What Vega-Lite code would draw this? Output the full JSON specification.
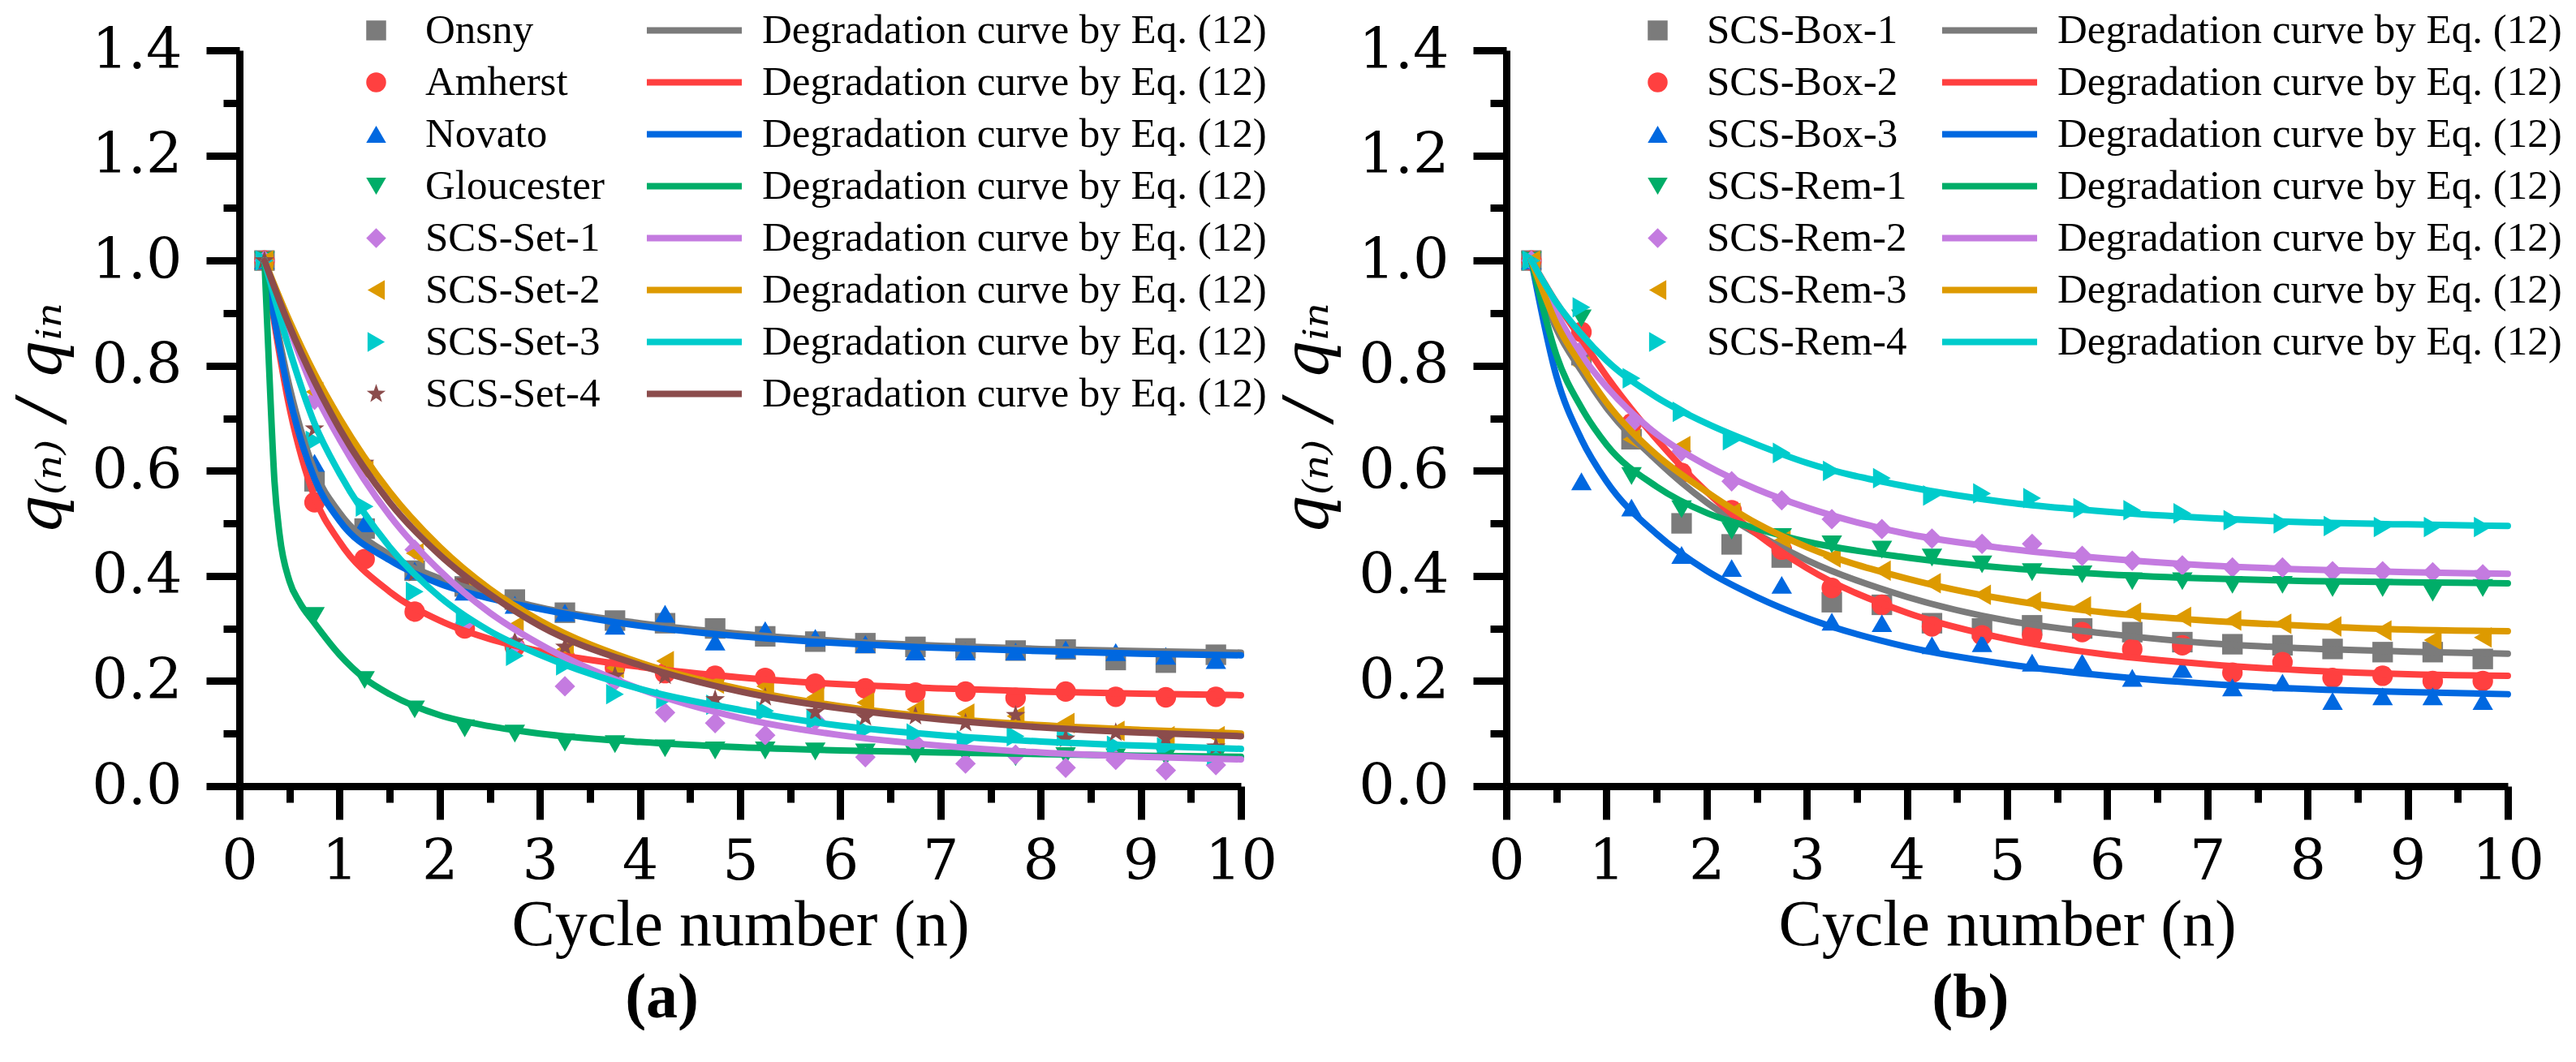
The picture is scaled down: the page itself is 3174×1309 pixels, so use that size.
{
  "$schema": "https://vega.github.io/schema/vega-lite/v6.json",
  "background": "white",
  "padding": {"left": 13, "top": 12, "right": 90, "bottom": 0},
  "config": {
    "view": {"stroke": null},
    "style": {
      "guide-label": {"font": "Liberation Serif", "fill": "black"},
      "guide-title": {"font": "Liberation Serif", "fill": "black"},
      "group-title": {"font": "Liberation Serif"}
    },
    "axis": {
      "domainColor": "black", "domainWidth": 9, "tickColor": "black", "tickWidth": 9,
      "labelFont": "DejaVu Serif", "labelFontSize": 70, "labelColor": "black",
      "titleFont": "Liberation Serif", "titleFontSize": 80, "titleFontWeight": "normal", "titleColor": "black",
      "grid": false
    },
    "legend": {
      "labelFont": "Liberation Serif", "labelFontSize": 51, "labelColor": "black", "labelLimit": 1000,
      "padding": 0, "rowPadding": 12, "title": null
    },
    "title": {"font": "Liberation Serif", "fontSize": 78, "fontWeight": "bold", "color": "black"}
  },
  "datasets": {
    "pa": [
      {"n":0.25,"q":1.0,"s":"Onsny"},{"n":0.75,"q":0.58,"s":"Onsny"},{"n":1.25,"q":0.49,"s":"Onsny"},{"n":1.75,"q":0.41,"s":"Onsny"},{"n":2.25,"q":0.38,"s":"Onsny"},{"n":2.75,"q":0.355,"s":"Onsny"},{"n":3.25,"q":0.33,"s":"Onsny"},{"n":3.75,"q":0.315,"s":"Onsny"},{"n":4.25,"q":0.31,"s":"Onsny"},{"n":4.75,"q":0.3,"s":"Onsny"},{"n":5.25,"q":0.285,"s":"Onsny"},{"n":5.75,"q":0.275,"s":"Onsny"},{"n":6.25,"q":0.272,"s":"Onsny"},{"n":6.75,"q":0.265,"s":"Onsny"},{"n":7.25,"q":0.262,"s":"Onsny"},{"n":7.75,"q":0.258,"s":"Onsny"},{"n":8.25,"q":0.26,"s":"Onsny"},{"n":8.75,"q":0.24,"s":"Onsny"},{"n":9.25,"q":0.235,"s":"Onsny"},{"n":9.75,"q":0.25,"s":"Onsny"},
      {"n":0.25,"q":1.0,"s":"Amherst"},{"n":0.75,"q":0.54,"s":"Amherst"},{"n":1.25,"q":0.432,"s":"Amherst"},{"n":1.75,"q":0.332,"s":"Amherst"},{"n":2.25,"q":0.3,"s":"Amherst"},{"n":2.75,"q":0.265,"s":"Amherst"},{"n":3.25,"q":0.245,"s":"Amherst"},{"n":3.75,"q":0.225,"s":"Amherst"},{"n":4.25,"q":0.215,"s":"Amherst"},{"n":4.75,"q":0.21,"s":"Amherst"},{"n":5.25,"q":0.206,"s":"Amherst"},{"n":5.75,"q":0.195,"s":"Amherst"},{"n":6.25,"q":0.186,"s":"Amherst"},{"n":6.75,"q":0.178,"s":"Amherst"},{"n":7.25,"q":0.18,"s":"Amherst"},{"n":7.75,"q":0.168,"s":"Amherst"},{"n":8.25,"q":0.18,"s":"Amherst"},{"n":8.75,"q":0.17,"s":"Amherst"},{"n":9.25,"q":0.169,"s":"Amherst"},{"n":9.75,"q":0.17,"s":"Amherst"},
      {"n":0.25,"q":1.0,"s":"Novato"},{"n":0.75,"q":0.615,"s":"Novato"},{"n":1.25,"q":0.5,"s":"Novato"},{"n":1.75,"q":0.41,"s":"Novato"},{"n":2.25,"q":0.37,"s":"Novato"},{"n":2.75,"q":0.345,"s":"Novato"},{"n":3.25,"q":0.33,"s":"Novato"},{"n":3.75,"q":0.305,"s":"Novato"},{"n":4.25,"q":0.328,"s":"Novato"},{"n":4.75,"q":0.275,"s":"Novato"},{"n":5.25,"q":0.297,"s":"Novato"},{"n":5.75,"q":0.282,"s":"Novato"},{"n":6.25,"q":0.27,"s":"Novato"},{"n":6.75,"q":0.256,"s":"Novato"},{"n":7.25,"q":0.256,"s":"Novato"},{"n":7.75,"q":0.256,"s":"Novato"},{"n":8.25,"q":0.26,"s":"Novato"},{"n":8.75,"q":0.255,"s":"Novato"},{"n":9.25,"q":0.248,"s":"Novato"},{"n":9.75,"q":0.24,"s":"Novato"},
      {"n":0.25,"q":1.0,"s":"Gloucester"},{"n":0.75,"q":0.324,"s":"Gloucester"},{"n":1.25,"q":0.202,"s":"Gloucester"},{"n":1.75,"q":0.146,"s":"Gloucester"},{"n":2.25,"q":0.11,"s":"Gloucester"},{"n":2.75,"q":0.1,"s":"Gloucester"},{"n":3.25,"q":0.083,"s":"Gloucester"},{"n":3.75,"q":0.08,"s":"Gloucester"},{"n":4.25,"q":0.072,"s":"Gloucester"},{"n":4.75,"q":0.068,"s":"Gloucester"},{"n":5.25,"q":0.068,"s":"Gloucester"},{"n":5.75,"q":0.066,"s":"Gloucester"},{"n":6.25,"q":0.064,"s":"Gloucester"},{"n":6.75,"q":0.06,"s":"Gloucester"},{"n":7.25,"q":0.059,"s":"Gloucester"},{"n":7.75,"q":0.055,"s":"Gloucester"},{"n":8.25,"q":0.057,"s":"Gloucester"},{"n":8.75,"q":0.055,"s":"Gloucester"},{"n":9.25,"q":0.055,"s":"Gloucester"},{"n":9.75,"q":0.054,"s":"Gloucester"},
      {"n":0.25,"q":1.0,"s":"SCS-Set-1"},{"n":0.75,"q":0.735,"s":"SCS-Set-1"},{"n":1.25,"q":0.608,"s":"SCS-Set-1"},{"n":1.75,"q":0.45,"s":"SCS-Set-1"},{"n":2.25,"q":0.31,"s":"SCS-Set-1"},{"n":2.75,"q":0.27,"s":"SCS-Set-1"},{"n":3.25,"q":0.19,"s":"SCS-Set-1"},{"n":3.75,"q":0.2,"s":"SCS-Set-1"},{"n":4.25,"q":0.14,"s":"SCS-Set-1"},{"n":4.75,"q":0.12,"s":"SCS-Set-1"},{"n":5.25,"q":0.097,"s":"SCS-Set-1"},{"n":5.75,"q":0.125,"s":"SCS-Set-1"},{"n":6.25,"q":0.055,"s":"SCS-Set-1"},{"n":6.75,"q":0.082,"s":"SCS-Set-1"},{"n":7.25,"q":0.043,"s":"SCS-Set-1"},{"n":7.75,"q":0.06,"s":"SCS-Set-1"},{"n":8.25,"q":0.035,"s":"SCS-Set-1"},{"n":8.75,"q":0.05,"s":"SCS-Set-1"},{"n":9.25,"q":0.03,"s":"SCS-Set-1"},{"n":9.75,"q":0.04,"s":"SCS-Set-1"},
      {"n":0.25,"q":1.0,"s":"SCS-Set-2"},{"n":0.75,"q":0.75,"s":"SCS-Set-2"},{"n":1.25,"q":0.6,"s":"SCS-Set-2"},{"n":1.75,"q":0.443,"s":"SCS-Set-2"},{"n":2.25,"q":0.38,"s":"SCS-Set-2"},{"n":2.75,"q":0.305,"s":"SCS-Set-2"},{"n":3.25,"q":0.26,"s":"SCS-Set-2"},{"n":3.75,"q":0.225,"s":"SCS-Set-2"},{"n":4.25,"q":0.238,"s":"SCS-Set-2"},{"n":4.75,"q":0.195,"s":"SCS-Set-2"},{"n":5.25,"q":0.19,"s":"SCS-Set-2"},{"n":5.75,"q":0.169,"s":"SCS-Set-2"},{"n":6.25,"q":0.159,"s":"SCS-Set-2"},{"n":6.75,"q":0.146,"s":"SCS-Set-2"},{"n":7.25,"q":0.138,"s":"SCS-Set-2"},{"n":7.75,"q":0.133,"s":"SCS-Set-2"},{"n":8.25,"q":0.12,"s":"SCS-Set-2"},{"n":8.75,"q":0.105,"s":"SCS-Set-2"},{"n":9.25,"q":0.095,"s":"SCS-Set-2"},{"n":9.75,"q":0.095,"s":"SCS-Set-2"},
      {"n":0.25,"q":1.0,"s":"SCS-Set-3"},{"n":0.75,"q":0.657,"s":"SCS-Set-3"},{"n":1.25,"q":0.532,"s":"SCS-Set-3"},{"n":1.75,"q":0.37,"s":"SCS-Set-3"},{"n":2.25,"q":0.315,"s":"SCS-Set-3"},{"n":2.75,"q":0.248,"s":"SCS-Set-3"},{"n":3.25,"q":0.23,"s":"SCS-Set-3"},{"n":3.75,"q":0.175,"s":"SCS-Set-3"},{"n":4.25,"q":0.166,"s":"SCS-Set-3"},{"n":4.75,"q":0.155,"s":"SCS-Set-3"},{"n":5.25,"q":0.143,"s":"SCS-Set-3"},{"n":5.75,"q":0.126,"s":"SCS-Set-3"},{"n":6.25,"q":0.107,"s":"SCS-Set-3"},{"n":6.75,"q":0.1,"s":"SCS-Set-3"},{"n":7.25,"q":0.087,"s":"SCS-Set-3"},{"n":7.75,"q":0.095,"s":"SCS-Set-3"},{"n":8.25,"q":0.095,"s":"SCS-Set-3"},{"n":8.75,"q":0.077,"s":"SCS-Set-3"},{"n":9.25,"q":0.074,"s":"SCS-Set-3"},{"n":9.75,"q":0.06,"s":"SCS-Set-3"},
      {"n":0.25,"q":1.0,"s":"SCS-Set-4"},{"n":0.75,"q":0.68,"s":"SCS-Set-4"},{"n":1.25,"q":0.615,"s":"SCS-Set-4"},{"n":1.75,"q":0.405,"s":"SCS-Set-4"},{"n":2.25,"q":0.39,"s":"SCS-Set-4"},{"n":2.75,"q":0.275,"s":"SCS-Set-4"},{"n":3.25,"q":0.265,"s":"SCS-Set-4"},{"n":3.75,"q":0.21,"s":"SCS-Set-4"},{"n":4.25,"q":0.21,"s":"SCS-Set-4"},{"n":4.75,"q":0.165,"s":"SCS-Set-4"},{"n":5.25,"q":0.169,"s":"SCS-Set-4"},{"n":5.75,"q":0.141,"s":"SCS-Set-4"},{"n":6.25,"q":0.131,"s":"SCS-Set-4"},{"n":6.75,"q":0.133,"s":"SCS-Set-4"},{"n":7.25,"q":0.12,"s":"SCS-Set-4"},{"n":7.75,"q":0.135,"s":"SCS-Set-4"},{"n":8.25,"q":0.09,"s":"SCS-Set-4"},{"n":8.75,"q":0.102,"s":"SCS-Set-4"},{"n":9.25,"q":0.09,"s":"SCS-Set-4"},{"n":9.75,"q":0.075,"s":"SCS-Set-4"}
    ],
    "ca": [
      {"n":0.25,"q":1.0,"c":"fit-Onsny"},{"n":0.5,"q":0.76,"c":"fit-Onsny"},{"n":0.75,"q":0.6,"c":"fit-Onsny"},{"n":1,"q":0.52,"c":"fit-Onsny"},{"n":1.5,"q":0.44,"c":"fit-Onsny"},{"n":2,"q":0.395,"c":"fit-Onsny"},{"n":2.5,"q":0.365,"c":"fit-Onsny"},{"n":3,"q":0.34,"c":"fit-Onsny"},{"n":4,"q":0.31,"c":"fit-Onsny"},{"n":5,"q":0.29,"c":"fit-Onsny"},{"n":6,"q":0.276,"c":"fit-Onsny"},{"n":7,"q":0.267,"c":"fit-Onsny"},{"n":8,"q":0.261,"c":"fit-Onsny"},{"n":9,"q":0.257,"c":"fit-Onsny"},{"n":10,"q":0.254,"c":"fit-Onsny"},
      {"n":0.25,"q":1.0,"c":"fit-Amherst"},{"n":0.5,"q":0.72,"c":"fit-Amherst"},{"n":0.75,"q":0.55,"c":"fit-Amherst"},{"n":1,"q":0.465,"c":"fit-Amherst"},{"n":1.5,"q":0.37,"c":"fit-Amherst"},{"n":2,"q":0.315,"c":"fit-Amherst"},{"n":2.5,"q":0.28,"c":"fit-Amherst"},{"n":3,"q":0.257,"c":"fit-Amherst"},{"n":4,"q":0.227,"c":"fit-Amherst"},{"n":5,"q":0.207,"c":"fit-Amherst"},{"n":6,"q":0.194,"c":"fit-Amherst"},{"n":7,"q":0.186,"c":"fit-Amherst"},{"n":8,"q":0.18,"c":"fit-Amherst"},{"n":9,"q":0.176,"c":"fit-Amherst"},{"n":10,"q":0.173,"c":"fit-Amherst"},
      {"n":0.25,"q":1.0,"c":"fit-Novato"},{"n":0.5,"q":0.74,"c":"fit-Novato"},{"n":0.75,"q":0.585,"c":"fit-Novato"},{"n":1,"q":0.505,"c":"fit-Novato"},{"n":1.5,"q":0.43,"c":"fit-Novato"},{"n":2,"q":0.385,"c":"fit-Novato"},{"n":2.5,"q":0.357,"c":"fit-Novato"},{"n":3,"q":0.337,"c":"fit-Novato"},{"n":4,"q":0.305,"c":"fit-Novato"},{"n":5,"q":0.285,"c":"fit-Novato"},{"n":6,"q":0.272,"c":"fit-Novato"},{"n":7,"q":0.263,"c":"fit-Novato"},{"n":8,"q":0.257,"c":"fit-Novato"},{"n":9,"q":0.252,"c":"fit-Novato"},{"n":10,"q":0.249,"c":"fit-Novato"},
      {"n":0.25,"q":1.0,"c":"fit-Gloucester"},{"n":0.3,"q":0.78,"c":"fit-Gloucester"},{"n":0.35,"q":0.58,"c":"fit-Gloucester"},{"n":0.4,"q":0.48,"c":"fit-Gloucester"},{"n":0.5,"q":0.39,"c":"fit-Gloucester"},{"n":0.6,"q":0.35,"c":"fit-Gloucester"},{"n":0.75,"q":0.31,"c":"fit-Gloucester"},{"n":1,"q":0.25,"c":"fit-Gloucester"},{"n":1.25,"q":0.205,"c":"fit-Gloucester"},{"n":1.5,"q":0.175,"c":"fit-Gloucester"},{"n":2,"q":0.135,"c":"fit-Gloucester"},{"n":2.5,"q":0.114,"c":"fit-Gloucester"},{"n":3,"q":0.1,"c":"fit-Gloucester"},{"n":4,"q":0.084,"c":"fit-Gloucester"},{"n":5,"q":0.074,"c":"fit-Gloucester"},{"n":6,"q":0.068,"c":"fit-Gloucester"},{"n":7,"q":0.064,"c":"fit-Gloucester"},{"n":8,"q":0.061,"c":"fit-Gloucester"},{"n":9,"q":0.058,"c":"fit-Gloucester"},{"n":10,"q":0.056,"c":"fit-Gloucester"},
      {"n":0.25,"q":1.0,"c":"fit-SCS-Set-1"},{"n":0.5,"q":0.87,"c":"fit-SCS-Set-1"},{"n":0.75,"q":0.75,"c":"fit-SCS-Set-1"},{"n":1,"q":0.66,"c":"fit-SCS-Set-1"},{"n":1.5,"q":0.515,"c":"fit-SCS-Set-1"},{"n":2,"q":0.41,"c":"fit-SCS-Set-1"},{"n":2.5,"q":0.33,"c":"fit-SCS-Set-1"},{"n":3,"q":0.27,"c":"fit-SCS-Set-1"},{"n":4,"q":0.185,"c":"fit-SCS-Set-1"},{"n":5,"q":0.13,"c":"fit-SCS-Set-1"},{"n":6,"q":0.097,"c":"fit-SCS-Set-1"},{"n":7,"q":0.077,"c":"fit-SCS-Set-1"},{"n":8,"q":0.064,"c":"fit-SCS-Set-1"},{"n":9,"q":0.056,"c":"fit-SCS-Set-1"},{"n":10,"q":0.051,"c":"fit-SCS-Set-1"},
      {"n":0.25,"q":1.0,"c":"fit-SCS-Set-2"},{"n":0.5,"q":0.885,"c":"fit-SCS-Set-2"},{"n":0.75,"q":0.785,"c":"fit-SCS-Set-2"},{"n":1,"q":0.7,"c":"fit-SCS-Set-2"},{"n":1.5,"q":0.56,"c":"fit-SCS-Set-2"},{"n":2,"q":0.455,"c":"fit-SCS-Set-2"},{"n":2.5,"q":0.375,"c":"fit-SCS-Set-2"},{"n":3,"q":0.315,"c":"fit-SCS-Set-2"},{"n":4,"q":0.235,"c":"fit-SCS-Set-2"},{"n":5,"q":0.185,"c":"fit-SCS-Set-2"},{"n":6,"q":0.152,"c":"fit-SCS-Set-2"},{"n":7,"q":0.13,"c":"fit-SCS-Set-2"},{"n":8,"q":0.116,"c":"fit-SCS-Set-2"},{"n":9,"q":0.107,"c":"fit-SCS-Set-2"},{"n":10,"q":0.1,"c":"fit-SCS-Set-2"},
      {"n":0.25,"q":1.0,"c":"fit-SCS-Set-3"},{"n":0.5,"q":0.83,"c":"fit-SCS-Set-3"},{"n":0.75,"q":0.69,"c":"fit-SCS-Set-3"},{"n":1,"q":0.595,"c":"fit-SCS-Set-3"},{"n":1.5,"q":0.455,"c":"fit-SCS-Set-3"},{"n":2,"q":0.36,"c":"fit-SCS-Set-3"},{"n":2.5,"q":0.295,"c":"fit-SCS-Set-3"},{"n":3,"q":0.25,"c":"fit-SCS-Set-3"},{"n":4,"q":0.185,"c":"fit-SCS-Set-3"},{"n":5,"q":0.145,"c":"fit-SCS-Set-3"},{"n":6,"q":0.115,"c":"fit-SCS-Set-3"},{"n":7,"q":0.097,"c":"fit-SCS-Set-3"},{"n":8,"q":0.085,"c":"fit-SCS-Set-3"},{"n":9,"q":0.077,"c":"fit-SCS-Set-3"},{"n":10,"q":0.071,"c":"fit-SCS-Set-3"},
      {"n":0.25,"q":1.0,"c":"fit-SCS-Set-4"},{"n":0.5,"q":0.875,"c":"fit-SCS-Set-4"},{"n":0.75,"q":0.77,"c":"fit-SCS-Set-4"},{"n":1,"q":0.68,"c":"fit-SCS-Set-4"},{"n":1.5,"q":0.54,"c":"fit-SCS-Set-4"},{"n":2,"q":0.44,"c":"fit-SCS-Set-4"},{"n":2.5,"q":0.365,"c":"fit-SCS-Set-4"},{"n":3,"q":0.305,"c":"fit-SCS-Set-4"},{"n":4,"q":0.23,"c":"fit-SCS-Set-4"},{"n":5,"q":0.18,"c":"fit-SCS-Set-4"},{"n":6,"q":0.148,"c":"fit-SCS-Set-4"},{"n":7,"q":0.127,"c":"fit-SCS-Set-4"},{"n":8,"q":0.112,"c":"fit-SCS-Set-4"},{"n":9,"q":0.102,"c":"fit-SCS-Set-4"},{"n":10,"q":0.095,"c":"fit-SCS-Set-4"}
    ],
    "pb": [
      {"n":0.25,"q":1.0,"s":"SCS-Box-1"},{"n":0.75,"q":0.82,"s":"SCS-Box-1"},{"n":1.25,"q":0.66,"s":"SCS-Box-1"},{"n":1.75,"q":0.5,"s":"SCS-Box-1"},{"n":2.25,"q":0.46,"s":"SCS-Box-1"},{"n":2.75,"q":0.435,"s":"SCS-Box-1"},{"n":3.25,"q":0.35,"s":"SCS-Box-1"},{"n":3.75,"q":0.345,"s":"SCS-Box-1"},{"n":4.25,"q":0.31,"s":"SCS-Box-1"},{"n":4.75,"q":0.3,"s":"SCS-Box-1"},{"n":5.25,"q":0.306,"s":"SCS-Box-1"},{"n":5.75,"q":0.3,"s":"SCS-Box-1"},{"n":6.25,"q":0.293,"s":"SCS-Box-1"},{"n":6.75,"q":0.274,"s":"SCS-Box-1"},{"n":7.25,"q":0.27,"s":"SCS-Box-1"},{"n":7.75,"q":0.268,"s":"SCS-Box-1"},{"n":8.25,"q":0.261,"s":"SCS-Box-1"},{"n":8.75,"q":0.255,"s":"SCS-Box-1"},{"n":9.25,"q":0.255,"s":"SCS-Box-1"},{"n":9.75,"q":0.242,"s":"SCS-Box-1"},
      {"n":0.25,"q":1.0,"s":"SCS-Box-2"},{"n":0.75,"q":0.864,"s":"SCS-Box-2"},{"n":1.25,"q":0.69,"s":"SCS-Box-2"},{"n":1.75,"q":0.596,"s":"SCS-Box-2"},{"n":2.25,"q":0.525,"s":"SCS-Box-2"},{"n":2.75,"q":0.45,"s":"SCS-Box-2"},{"n":3.25,"q":0.377,"s":"SCS-Box-2"},{"n":3.75,"q":0.345,"s":"SCS-Box-2"},{"n":4.25,"q":0.304,"s":"SCS-Box-2"},{"n":4.75,"q":0.287,"s":"SCS-Box-2"},{"n":5.25,"q":0.287,"s":"SCS-Box-2"},{"n":5.75,"q":0.293,"s":"SCS-Box-2"},{"n":6.25,"q":0.261,"s":"SCS-Box-2"},{"n":6.75,"q":0.268,"s":"SCS-Box-2"},{"n":7.25,"q":0.216,"s":"SCS-Box-2"},{"n":7.75,"q":0.236,"s":"SCS-Box-2"},{"n":8.25,"q":0.206,"s":"SCS-Box-2"},{"n":8.75,"q":0.21,"s":"SCS-Box-2"},{"n":9.25,"q":0.2,"s":"SCS-Box-2"},{"n":9.75,"q":0.2,"s":"SCS-Box-2"},
      {"n":0.25,"q":1.0,"s":"SCS-Box-3"},{"n":0.75,"q":0.58,"s":"SCS-Box-3"},{"n":1.25,"q":0.53,"s":"SCS-Box-3"},{"n":1.75,"q":0.44,"s":"SCS-Box-3"},{"n":2.25,"q":0.415,"s":"SCS-Box-3"},{"n":2.75,"q":0.383,"s":"SCS-Box-3"},{"n":3.25,"q":0.313,"s":"SCS-Box-3"},{"n":3.75,"q":0.31,"s":"SCS-Box-3"},{"n":4.25,"q":0.268,"s":"SCS-Box-3"},{"n":4.75,"q":0.272,"s":"SCS-Box-3"},{"n":5.25,"q":0.235,"s":"SCS-Box-3"},{"n":5.75,"q":0.235,"s":"SCS-Box-3"},{"n":6.25,"q":0.206,"s":"SCS-Box-3"},{"n":6.75,"q":0.223,"s":"SCS-Box-3"},{"n":7.25,"q":0.188,"s":"SCS-Box-3"},{"n":7.75,"q":0.197,"s":"SCS-Box-3"},{"n":8.25,"q":0.162,"s":"SCS-Box-3"},{"n":8.75,"q":0.171,"s":"SCS-Box-3"},{"n":9.25,"q":0.171,"s":"SCS-Box-3"},{"n":9.75,"q":0.162,"s":"SCS-Box-3"},
      {"n":0.25,"q":1.0,"s":"SCS-Rem-1"},{"n":0.75,"q":0.89,"s":"SCS-Rem-1"},{"n":1.25,"q":0.59,"s":"SCS-Rem-1"},{"n":1.75,"q":0.527,"s":"SCS-Rem-1"},{"n":2.25,"q":0.486,"s":"SCS-Rem-1"},{"n":2.75,"q":0.474,"s":"SCS-Rem-1"},{"n":3.25,"q":0.46,"s":"SCS-Rem-1"},{"n":3.75,"q":0.45,"s":"SCS-Rem-1"},{"n":4.25,"q":0.435,"s":"SCS-Rem-1"},{"n":4.75,"q":0.422,"s":"SCS-Rem-1"},{"n":5.25,"q":0.407,"s":"SCS-Rem-1"},{"n":5.75,"q":0.403,"s":"SCS-Rem-1"},{"n":6.25,"q":0.39,"s":"SCS-Rem-1"},{"n":6.75,"q":0.39,"s":"SCS-Rem-1"},{"n":7.25,"q":0.383,"s":"SCS-Rem-1"},{"n":7.75,"q":0.383,"s":"SCS-Rem-1"},{"n":8.25,"q":0.377,"s":"SCS-Rem-1"},{"n":8.75,"q":0.377,"s":"SCS-Rem-1"},{"n":9.25,"q":0.368,"s":"SCS-Rem-1"},{"n":9.75,"q":0.377,"s":"SCS-Rem-1"},
      {"n":0.25,"q":1.0,"s":"SCS-Rem-2"},{"n":0.75,"q":0.83,"s":"SCS-Rem-2"},{"n":1.25,"q":0.69,"s":"SCS-Rem-2"},{"n":1.75,"q":0.637,"s":"SCS-Rem-2"},{"n":2.25,"q":0.58,"s":"SCS-Rem-2"},{"n":2.75,"q":0.544,"s":"SCS-Rem-2"},{"n":3.25,"q":0.508,"s":"SCS-Rem-2"},{"n":3.75,"q":0.489,"s":"SCS-Rem-2"},{"n":4.25,"q":0.471,"s":"SCS-Rem-2"},{"n":4.75,"q":0.461,"s":"SCS-Rem-2"},{"n":5.25,"q":0.461,"s":"SCS-Rem-2"},{"n":5.75,"q":0.438,"s":"SCS-Rem-2"},{"n":6.25,"q":0.429,"s":"SCS-Rem-2"},{"n":6.75,"q":0.42,"s":"SCS-Rem-2"},{"n":7.25,"q":0.416,"s":"SCS-Rem-2"},{"n":7.75,"q":0.416,"s":"SCS-Rem-2"},{"n":8.25,"q":0.409,"s":"SCS-Rem-2"},{"n":8.75,"q":0.409,"s":"SCS-Rem-2"},{"n":9.25,"q":0.407,"s":"SCS-Rem-2"},{"n":9.75,"q":0.403,"s":"SCS-Rem-2"},
      {"n":0.25,"q":1.0,"s":"SCS-Rem-3"},{"n":0.75,"q":0.8,"s":"SCS-Rem-3"},{"n":1.25,"q":0.66,"s":"SCS-Rem-3"},{"n":1.75,"q":0.647,"s":"SCS-Rem-3"},{"n":2.25,"q":0.52,"s":"SCS-Rem-3"},{"n":2.75,"q":0.467,"s":"SCS-Rem-3"},{"n":3.25,"q":0.435,"s":"SCS-Rem-3"},{"n":3.75,"q":0.41,"s":"SCS-Rem-3"},{"n":4.25,"q":0.386,"s":"SCS-Rem-3"},{"n":4.75,"q":0.364,"s":"SCS-Rem-3"},{"n":5.25,"q":0.351,"s":"SCS-Rem-3"},{"n":5.75,"q":0.342,"s":"SCS-Rem-3"},{"n":6.25,"q":0.33,"s":"SCS-Rem-3"},{"n":6.75,"q":0.322,"s":"SCS-Rem-3"},{"n":7.25,"q":0.315,"s":"SCS-Rem-3"},{"n":7.75,"q":0.309,"s":"SCS-Rem-3"},{"n":8.25,"q":0.304,"s":"SCS-Rem-3"},{"n":8.75,"q":0.296,"s":"SCS-Rem-3"},{"n":9.25,"q":0.278,"s":"SCS-Rem-3"},{"n":9.75,"q":0.283,"s":"SCS-Rem-3"},
      {"n":0.25,"q":1.0,"s":"SCS-Rem-4"},{"n":0.75,"q":0.911,"s":"SCS-Rem-4"},{"n":1.25,"q":0.776,"s":"SCS-Rem-4"},{"n":1.75,"q":0.712,"s":"SCS-Rem-4"},{"n":2.25,"q":0.658,"s":"SCS-Rem-4"},{"n":2.75,"q":0.634,"s":"SCS-Rem-4"},{"n":3.25,"q":0.6,"s":"SCS-Rem-4"},{"n":3.75,"q":0.586,"s":"SCS-Rem-4"},{"n":4.25,"q":0.553,"s":"SCS-Rem-4"},{"n":4.75,"q":0.557,"s":"SCS-Rem-4"},{"n":5.25,"q":0.548,"s":"SCS-Rem-4"},{"n":5.75,"q":0.529,"s":"SCS-Rem-4"},{"n":6.25,"q":0.525,"s":"SCS-Rem-4"},{"n":6.75,"q":0.519,"s":"SCS-Rem-4"},{"n":7.25,"q":0.506,"s":"SCS-Rem-4"},{"n":7.75,"q":0.5,"s":"SCS-Rem-4"},{"n":8.25,"q":0.495,"s":"SCS-Rem-4"},{"n":8.75,"q":0.493,"s":"SCS-Rem-4"},{"n":9.25,"q":0.493,"s":"SCS-Rem-4"},{"n":9.75,"q":0.493,"s":"SCS-Rem-4"}
    ],
    "cb": [
      {"n":0.25,"q":1.0,"c":"fit-Box-1"},{"n":0.5,"q":0.87,"c":"fit-Box-1"},{"n":0.75,"q":0.79,"c":"fit-Box-1"},{"n":1,"q":0.72,"c":"fit-Box-1"},{"n":1.5,"q":0.62,"c":"fit-Box-1"},{"n":2,"q":0.54,"c":"fit-Box-1"},{"n":2.5,"q":0.48,"c":"fit-Box-1"},{"n":3,"q":0.43,"c":"fit-Box-1"},{"n":4,"q":0.36,"c":"fit-Box-1"},{"n":5,"q":0.315,"c":"fit-Box-1"},{"n":6,"q":0.29,"c":"fit-Box-1"},{"n":7,"q":0.272,"c":"fit-Box-1"},{"n":8,"q":0.262,"c":"fit-Box-1"},{"n":9,"q":0.256,"c":"fit-Box-1"},{"n":10,"q":0.252,"c":"fit-Box-1"},
      {"n":0.25,"q":1.0,"c":"fit-Box-2"},{"n":0.5,"q":0.92,"c":"fit-Box-2"},{"n":0.75,"q":0.85,"c":"fit-Box-2"},{"n":1,"q":0.78,"c":"fit-Box-2"},{"n":1.5,"q":0.66,"c":"fit-Box-2"},{"n":2,"q":0.56,"c":"fit-Box-2"},{"n":2.5,"q":0.48,"c":"fit-Box-2"},{"n":3,"q":0.415,"c":"fit-Box-2"},{"n":4,"q":0.33,"c":"fit-Box-2"},{"n":5,"q":0.28,"c":"fit-Box-2"},{"n":6,"q":0.25,"c":"fit-Box-2"},{"n":7,"q":0.232,"c":"fit-Box-2"},{"n":8,"q":0.22,"c":"fit-Box-2"},{"n":9,"q":0.213,"c":"fit-Box-2"},{"n":10,"q":0.21,"c":"fit-Box-2"},
      {"n":0.25,"q":1.0,"c":"fit-Box-3"},{"n":0.5,"q":0.78,"c":"fit-Box-3"},{"n":0.75,"q":0.66,"c":"fit-Box-3"},{"n":1,"q":0.58,"c":"fit-Box-3"},{"n":1.5,"q":0.48,"c":"fit-Box-3"},{"n":2,"q":0.41,"c":"fit-Box-3"},{"n":2.5,"q":0.36,"c":"fit-Box-3"},{"n":3,"q":0.32,"c":"fit-Box-3"},{"n":4,"q":0.265,"c":"fit-Box-3"},{"n":5,"q":0.232,"c":"fit-Box-3"},{"n":6,"q":0.21,"c":"fit-Box-3"},{"n":7,"q":0.195,"c":"fit-Box-3"},{"n":8,"q":0.185,"c":"fit-Box-3"},{"n":9,"q":0.179,"c":"fit-Box-3"},{"n":10,"q":0.175,"c":"fit-Box-3"},
      {"n":0.25,"q":1.0,"c":"fit-Rem-1"},{"n":0.5,"q":0.82,"c":"fit-Rem-1"},{"n":0.75,"q":0.72,"c":"fit-Rem-1"},{"n":1,"q":0.65,"c":"fit-Rem-1"},{"n":1.5,"q":0.57,"c":"fit-Rem-1"},{"n":2,"q":0.52,"c":"fit-Rem-1"},{"n":2.5,"q":0.49,"c":"fit-Rem-1"},{"n":3,"q":0.465,"c":"fit-Rem-1"},{"n":4,"q":0.435,"c":"fit-Rem-1"},{"n":5,"q":0.415,"c":"fit-Rem-1"},{"n":6,"q":0.403,"c":"fit-Rem-1"},{"n":7,"q":0.395,"c":"fit-Rem-1"},{"n":8,"q":0.39,"c":"fit-Rem-1"},{"n":9,"q":0.388,"c":"fit-Rem-1"},{"n":10,"q":0.386,"c":"fit-Rem-1"},
      {"n":0.25,"q":1.0,"c":"fit-Rem-2"},{"n":0.5,"q":0.9,"c":"fit-Rem-2"},{"n":0.75,"q":0.82,"c":"fit-Rem-2"},{"n":1,"q":0.76,"c":"fit-Rem-2"},{"n":1.5,"q":0.67,"c":"fit-Rem-2"},{"n":2,"q":0.61,"c":"fit-Rem-2"},{"n":2.5,"q":0.565,"c":"fit-Rem-2"},{"n":3,"q":0.53,"c":"fit-Rem-2"},{"n":4,"q":0.48,"c":"fit-Rem-2"},{"n":5,"q":0.452,"c":"fit-Rem-2"},{"n":6,"q":0.433,"c":"fit-Rem-2"},{"n":7,"q":0.42,"c":"fit-Rem-2"},{"n":8,"q":0.412,"c":"fit-Rem-2"},{"n":9,"q":0.407,"c":"fit-Rem-2"},{"n":10,"q":0.404,"c":"fit-Rem-2"},
      {"n":0.25,"q":1.0,"c":"fit-Rem-3"},{"n":0.5,"q":0.88,"c":"fit-Rem-3"},{"n":0.75,"q":0.8,"c":"fit-Rem-3"},{"n":1,"q":0.73,"c":"fit-Rem-3"},{"n":1.5,"q":0.63,"c":"fit-Rem-3"},{"n":2,"q":0.56,"c":"fit-Rem-3"},{"n":2.5,"q":0.5,"c":"fit-Rem-3"},{"n":3,"q":0.455,"c":"fit-Rem-3"},{"n":4,"q":0.395,"c":"fit-Rem-3"},{"n":5,"q":0.355,"c":"fit-Rem-3"},{"n":6,"q":0.33,"c":"fit-Rem-3"},{"n":7,"q":0.315,"c":"fit-Rem-3"},{"n":8,"q":0.305,"c":"fit-Rem-3"},{"n":9,"q":0.298,"c":"fit-Rem-3"},{"n":10,"q":0.295,"c":"fit-Rem-3"},
      {"n":0.25,"q":1.0,"c":"fit-Rem-4"},{"n":0.5,"q":0.92,"c":"fit-Rem-4"},{"n":0.75,"q":0.86,"c":"fit-Rem-4"},{"n":1,"q":0.81,"c":"fit-Rem-4"},{"n":1.5,"q":0.74,"c":"fit-Rem-4"},{"n":2,"q":0.69,"c":"fit-Rem-4"},{"n":2.5,"q":0.65,"c":"fit-Rem-4"},{"n":3,"q":0.615,"c":"fit-Rem-4"},{"n":4,"q":0.57,"c":"fit-Rem-4"},{"n":5,"q":0.54,"c":"fit-Rem-4"},{"n":6,"q":0.522,"c":"fit-Rem-4"},{"n":7,"q":0.51,"c":"fit-Rem-4"},{"n":8,"q":0.502,"c":"fit-Rem-4"},{"n":9,"q":0.498,"c":"fit-Rem-4"},{"n":10,"q":0.495,"c":"fit-Rem-4"}
    ]
  },
  "hconcat": [
    {
      "width": 1234,
      "height": 907,
      "title": {"text": "(a)", "orient": "bottom", "anchor": "middle", "frame": "bounds", "offset": 12, "dx": 22, "font": "Liberation Serif"},
      "resolve": {"axis": {"x": "independent", "y": "independent"}},
      "layer": [
        {
          "data": {"name": "pa"},
          "mark": {"type": "point", "filled": true, "size": 640, "opacity": 1},
          "encoding": {
            "x": {"field": "n", "type": "quantitative", "scale": {"domain": [0, 10], "nice": false},
              "axis": {"title": "Cycle number (n)", "orient": "bottom", "values": [0,1,2,3,4,5,6,7,8,9,10], "format": "d", "tickSize": 41,
                "labelFont": "DejaVu Serif", "labelFontSize": 70,
                "labelPadding": 18, "titlePadding": 4, "labelFlush": false, "labelOverlap": false}},
            "y": {"field": "q", "type": "quantitative", "scale": {"domain": [0, 1.4], "nice": false},
              "axis": {"title": "q₍ₙ₎ / qᵢₙ", "titleFont": "DejaVu Serif", "titleFontSize": 76, "titleFontStyle": "italic", "orient": "left", "values": [0,0.2,0.4,0.6,0.8,1,1.2,1.4], "format": ".1f", "tickSize": 41,
                "labelFont": "DejaVu Serif", "labelFontSize": 70,
                "labelPadding": 30, "titlePadding": 22, "labelFlush": false, "labelOverlap": false}},
            "fill": {"field": "s", "type": "nominal",
              "scale": {"domain": ["Onsny","Amherst","Novato","Gloucester","SCS-Set-1","SCS-Set-2","SCS-Set-3","SCS-Set-4"],
                "range": ["#7b7b7b","#ff4040","#0068e0","#00ad68","#c47be0","#dd9a00","#00cccc","#8b4c4c"]},
              "legend": {"orient": "none", "legendX": 143, "legendY": -50, "symbolSize": 600, "labelOffset": 35, "symbolStrokeWidth": 0, "labelLimit": 1000}},
            "shape": {"field": "s", "type": "nominal",
              "scale": {"domain": ["Onsny","Amherst","Novato","Gloucester","SCS-Set-1","SCS-Set-2","SCS-Set-3","SCS-Set-4"],
                "range": ["square","circle","triangle-up","triangle-down","diamond","triangle-left","triangle-right","M0,-1L0.235,-0.324L0.951,-0.309L0.380,0.124L0.588,0.809L0,0.4L-0.588,0.809L-0.380,0.124L-0.951,-0.309L-0.235,-0.324Z"]},
              "legend": {"orient": "none", "legendX": 143, "legendY": -50, "symbolSize": 600, "labelOffset": 35, "symbolStrokeWidth": 0, "labelLimit": 1000}}
          }
        },
        {
          "data": {"name": "ca"},
          "mark": {"type": "line", "strokeWidth": 8, "interpolate": "monotone", "strokeCap": "round"},
          "encoding": {
            "x": {"field": "n", "type": "quantitative", "scale": {"domain": [0, 10], "nice": false},
              "axis": {"title": null, "orient": "bottom", "values": [0.5,1.5,2.5,3.5,4.5,5.5,6.5,7.5,8.5,9.5], "tickSize": 20, "labels": false, "domain": false}},
            "y": {"field": "q", "type": "quantitative", "scale": {"domain": [0, 1.4], "nice": false},
              "axis": {"title": null, "orient": "left", "values": [0.1,0.3,0.5,0.7,0.9,1.1,1.3], "tickSize": 20, "labels": false, "domain": false}},
            "stroke": {"field": "c", "type": "nominal",
              "scale": {"domain": ["fit-Onsny","fit-Amherst","fit-Novato","fit-Gloucester","fit-SCS-Set-1","fit-SCS-Set-2","fit-SCS-Set-3","fit-SCS-Set-4"],
                "range": ["#7b7b7b","#ff4040","#0068e0","#00ad68","#c47be0","#dd9a00","#00cccc","#8b4c4c"]},
              "legend": {"orient": "none", "legendX": 535, "legendY": -50, "symbolType": "M-5,0H5", "symbolSize": 548, "symbolStrokeWidth": 8,
                "labelOffset": 58, "labelExpr": "'Degradation curve by Eq. (12)'", "labelLimit": 1000}}
          }
        }
      ]
    },
    {
      "width": 1234,
      "height": 907,
      "title": {"text": "(b)", "orient": "bottom", "anchor": "middle", "frame": "bounds", "offset": 12, "dx": 62, "font": "Liberation Serif"},
      "resolve": {"axis": {"x": "independent", "y": "independent"}},
      "layer": [
        {
          "data": {"name": "pb"},
          "mark": {"type": "point", "filled": true, "size": 640, "opacity": 1},
          "encoding": {
            "x": {"field": "n", "type": "quantitative", "scale": {"domain": [0, 10], "nice": false},
              "axis": {"title": "Cycle number (n)", "orient": "bottom", "values": [0,1,2,3,4,5,6,7,8,9,10], "format": "d", "tickSize": 41,
                "labelFont": "DejaVu Serif", "labelFontSize": 70,
                "labelPadding": 18, "titlePadding": 4, "labelFlush": false, "labelOverlap": false}},
            "y": {"field": "q", "type": "quantitative", "scale": {"domain": [0, 1.4], "nice": false},
              "axis": {"title": "q₍ₙ₎ / qᵢₙ", "titleFont": "DejaVu Serif", "titleFontSize": 76, "titleFontStyle": "italic", "orient": "left", "values": [0,0.2,0.4,0.6,0.8,1,1.2,1.4], "format": ".1f", "tickSize": 41,
                "labelFont": "DejaVu Serif", "labelFontSize": 70,
                "labelPadding": 30, "titlePadding": 22, "labelFlush": false, "labelOverlap": false}},
            "fill": {"field": "s", "type": "nominal",
              "scale": {"domain": ["SCS-Box-1","SCS-Box-2","SCS-Box-3","SCS-Rem-1","SCS-Rem-2","SCS-Rem-3","SCS-Rem-4"],
                "range": ["#7b7b7b","#ff4040","#0068e0","#00ad68","#c47be0","#dd9a00","#00cccc"]},
              "legend": {"orient": "none", "legendX": 161, "legendY": -50, "symbolSize": 600, "labelOffset": 35, "symbolStrokeWidth": 0, "labelLimit": 1000}},
            "shape": {"field": "s", "type": "nominal",
              "scale": {"domain": ["SCS-Box-1","SCS-Box-2","SCS-Box-3","SCS-Rem-1","SCS-Rem-2","SCS-Rem-3","SCS-Rem-4"],
                "range": ["square","circle","triangle-up","triangle-down","diamond","triangle-left","triangle-right"]},
              "legend": {"orient": "none", "legendX": 161, "legendY": -50, "symbolSize": 600, "labelOffset": 35, "symbolStrokeWidth": 0, "labelLimit": 1000}}
          }
        },
        {
          "data": {"name": "cb"},
          "mark": {"type": "line", "strokeWidth": 8, "interpolate": "monotone", "strokeCap": "round"},
          "encoding": {
            "x": {"field": "n", "type": "quantitative", "scale": {"domain": [0, 10], "nice": false},
              "axis": {"title": null, "orient": "bottom", "values": [0.5,1.5,2.5,3.5,4.5,5.5,6.5,7.5,8.5,9.5], "tickSize": 20, "labels": false, "domain": false}},
            "y": {"field": "q", "type": "quantitative", "scale": {"domain": [0, 1.4], "nice": false},
              "axis": {"title": null, "orient": "left", "values": [0.1,0.3,0.5,0.7,0.9,1.1,1.3], "tickSize": 20, "labels": false, "domain": false}},
            "stroke": {"field": "c", "type": "nominal",
              "scale": {"domain": ["fit-Box-1","fit-Box-2","fit-Box-3","fit-Rem-1","fit-Rem-2","fit-Rem-3","fit-Rem-4"],
                "range": ["#7b7b7b","#ff4040","#0068e0","#00ad68","#c47be0","#dd9a00","#00cccc"]},
              "legend": {"orient": "none", "legendX": 570, "legendY": -50, "symbolType": "M-5,0H5", "symbolSize": 548, "symbolStrokeWidth": 8,
                "labelOffset": 58, "labelExpr": "'Degradation curve by Eq. (12)'", "labelLimit": 1000}}
          }
        }
      ]
    }
  ],
  "spacing": 0,
  "resolve": {"scale": {"x": "independent", "y": "independent", "fill": "independent", "shape": "independent", "stroke": "independent"}, "legend": {"fill": "independent", "shape": "independent", "stroke": "independent"}}
}
